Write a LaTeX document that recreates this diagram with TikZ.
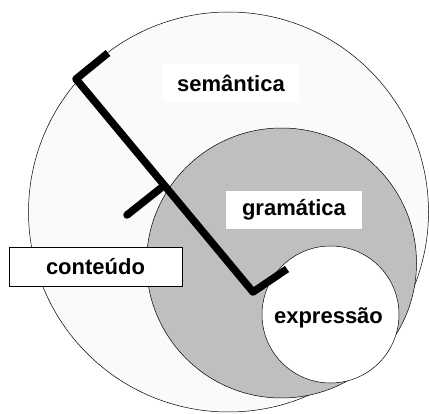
\documentclass[tikz,border=0pt]{standalone}
\usepackage{fontspec}
\setmainfont{Liberation Sans}
\usetikzlibrary{positioning}

\begin{document}
\begin{tikzpicture}[x=1pt,y=-1pt,font=\fontsize{22}{24}\selectfont\bfseries,
  ring/.style={draw,circle,line width=0.5pt,inner sep=0pt},
  tag/.style={fill=white,inner sep=0pt,minimum height=38pt}]
\useasboundingbox (0,0) rectangle (429,414);
\node[ring,fill=black!2,minimum size=400pt] (sem) at (228.5,212) {};
\node[ring,fill=black!25,minimum size=270pt] (gram) at (281.5,263) {};
\node[ring,fill=white,minimum size=137pt] (expr) at (330.5,314.5) {};
% the thick bracket line
\coordinate (p1) at (108,53);
\coordinate (p2) at (76,79);
\coordinate (p3) at (253,292);
\coordinate (p4) at (287,269);
\coordinate (t1) at (161,188);
\coordinate (t2) at (127,215);
\draw[line width=7.5pt,line join=round] (p1) -- (p2) -- (p3) -- (p4);
\draw[line width=7.5pt,line cap=round] (t1) -- (t2);
\node[tag,minimum width=136pt] (lsem) at (231,83) {semântica};
\node[tag,minimum width=136pt] (lgram) at (294,210) {gramática};
\node[tag,draw,line width=0.6pt,minimum width=173pt,minimum height=39pt] (lcont) at (95.5,266.5) {conteúdo};
\node (lexpr) at (328.5,318) {expressão};
\end{tikzpicture}
\end{document}
